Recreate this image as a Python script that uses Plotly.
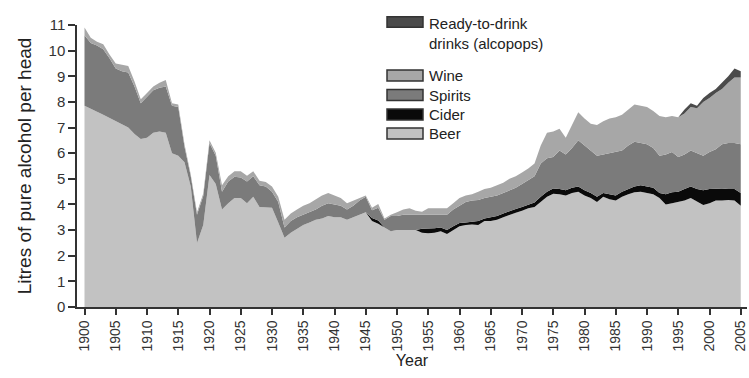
import plotly.graph_objects as go

years = list(range(1900, 2006))

beer = [7.85, 7.75, 7.62, 7.5, 7.38, 7.25, 7.12, 7.0, 6.75, 6.55,
        6.6, 6.8, 6.85, 6.8, 6.0, 5.9, 5.65, 4.7, 2.5, 3.2,
        5.15, 4.8, 3.8, 4.05, 4.25, 4.25, 4.05, 4.3, 3.9, 3.88,
        3.87, 3.3, 2.7, 2.9, 3.05, 3.2, 3.3, 3.4, 3.45, 3.55,
        3.5, 3.5, 3.4, 3.5, 3.6, 3.7, 3.35, 3.25, 3.1, 2.95,
        3.0, 3.0, 3.0, 3.0, 2.9, 2.88, 2.9, 2.95, 2.85, 3.0,
        3.15, 3.2, 3.22, 3.2, 3.35, 3.35, 3.4, 3.5, 3.6, 3.68,
        3.75, 3.85, 3.9, 4.1, 4.3, 4.42, 4.4, 4.35, 4.45, 4.5,
        4.35, 4.25, 4.1, 4.3, 4.2, 4.15, 4.3, 4.4, 4.48, 4.5,
        4.45, 4.4, 4.25, 4.0, 4.05, 4.1, 4.15, 4.25, 4.1, 3.98,
        4.05, 4.15, 4.15, 4.17, 4.15, 3.95]

cider = [0] * 46 + [0.12, 0.12, 0, 0, 0, 0, 0, 0, 0.15, 0.17,
        0.17, 0.15, 0.15, 0.15, 0.13, 0.1, 0.1, 0.15, 0.1, 0.15,
        0.15, 0.15, 0.15, 0.14, 0.15, 0.15, 0.18, 0.2, 0.2, 0.2,
        0.2, 0.2, 0.2, 0.2, 0.2, 0.2, 0.2, 0.15, 0.2, 0.2,
        0.2, 0.2, 0.22, 0.25, 0.25, 0.25, 0.2, 0.4, 0.43, 0.4,
        0.45, 0.45, 0.5, 0.57, 0.55, 0.47, 0.47, 0.43, 0.45, 0.5]

spirits = [2.75, 2.55, 2.58, 2.55, 2.32, 2.05, 2.08, 2.15, 1.85, 1.4,
           1.6, 1.65, 1.7, 1.8, 1.85, 1.9, 0.6, 0.4, 1.1, 1.13,
           1.25, 1.1, 0.7, 0.85, 0.83, 0.8, 0.85, 0.8, 0.85, 0.82,
           0.63, 0.8, 0.4, 0.45, 0.45, 0.4, 0.4, 0.4, 0.5, 0.5,
           0.5, 0.45, 0.4, 0.45, 0.55, 0.6, 0.3, 0.5, 0.3, 0.6,
           0.55, 0.6, 0.6, 0.6, 0.53, 0.55, 0.53, 0.5, 0.6, 0.65,
           0.67, 0.8, 0.83, 0.82, 0.8, 0.8, 0.8, 0.8, 0.8, 0.83,
           0.9, 0.95, 1.02, 1.3, 1.3, 1.23, 1.5, 1.4, 1.55, 1.8,
           1.75, 1.65, 1.6, 1.5, 1.6, 1.7, 1.6, 1.7, 1.75, 1.65,
           1.65, 1.55, 1.45, 1.55, 1.57, 1.35, 1.35, 1.4, 1.4, 1.35,
           1.45, 1.53, 1.73, 1.8, 1.8, 1.9]

wine = [0.3, 0.2, 0.15, 0.2, 0.15, 0.2, 0.25, 0.25, 0.2, 0.15,
        0.15, 0.15, 0.2, 0.25, 0.1, 0.1, 0.1, 0.07, 0.1, 0.1,
        0.1, 0.12, 0.25, 0.2, 0.22, 0.25, 0.22, 0.2, 0.17, 0.18,
        0.2, 0.2, 0.3, 0.3, 0.3, 0.35, 0.35, 0.4, 0.4, 0.4,
        0.35, 0.3, 0.25, 0.2, 0.1, 0.05, 0.1, 0.15, 0.05, 0.05,
        0.15, 0.2, 0.25, 0.15, 0.14, 0.25, 0.25, 0.25, 0.25, 0.25,
        0.3, 0.25, 0.25, 0.33, 0.35, 0.35, 0.4, 0.4, 0.45, 0.45,
        0.45, 0.45, 0.5, 0.7, 1.0, 1.0, 0.85, 0.65, 0.9, 1.1,
        1.05, 1.05, 1.2, 1.3, 1.35, 1.35, 1.4, 1.4, 1.45, 1.45,
        1.45, 1.45, 1.55, 1.45, 1.4, 1.55, 1.6, 1.7, 1.75, 2.1,
        2.1, 2.2, 2.15, 2.35, 2.55, 2.6]

rtd = [0] * 96 + [0.15, 0.15, 0.1, 0.15, 0.2, 0.15, 0.25, 0.25, 0.35, 0.25]

series_names = ["Beer", "Cider", "Spirits", "Wine", "Ready-to-drink<br>drinks (alcopops)"]
series_values = [beer, cider, spirits, wine, rtd]
series_colors = ["#c2c2c2", "#0a0a0a", "#7b7b7b", "#a7a7a7", "#4b4b4b"]

x_ticks = list(range(1900, 2006, 5))
y_ticks = list(range(0, 12))

FONT = "Liberation Sans Narrow, Arial Narrow, Liberation Sans, Arial, sans-serif"
AX = "#333333"

fig = go.Figure()
for name, vals, col in zip(series_names, series_values, series_colors):
    fig.add_trace(go.Scatter(
        x=years, y=vals, name=name, stackgroup="one", mode="lines",
        line=dict(width=0, color=col), fillcolor=col, showlegend=False,
    ))

# plot area in pixels
L, R, T, B = 77, 747, 25, 307
def px(xp):
    return (xp - L) / (R - L)
def py(yp):
    return (B - yp) / (B - T)

legend_rows = [("Ready-to-drink<br>drinks (alcopops)", 16.7, 27.3),
               ("Wine", 70.0, 81.0),
               ("Spirits", 89.5, 100.5),
               ("Cider", 109.0, 120.0),
               ("Beer", 128.0, 139.0)]
shapes = []
annotations = []
for name, y0, y1 in legend_rows:
    col = series_colors[series_names.index(name)]
    shapes.append(dict(type="rect", xref="paper", yref="paper",
                       x0=px(387), x1=px(423), y0=py(y1), y1=py(y0),
                       fillcolor=col, line=dict(color="#333333", width=1.5)))
    if "<br>" in name:
        annotations.append(dict(xref="paper", yref="paper", x=px(427), y=py(y0 - 4),
                                xanchor="left", yanchor="top", text=name, showarrow=False,
                                align="left", font=dict(family=FONT, size=15, color="#222")))
    else:
        annotations.append(dict(xref="paper", yref="paper", x=px(427), y=py((y0 + y1) / 2),
                                xanchor="left", yanchor="middle", text=name, showarrow=False,
                                align="left", font=dict(family=FONT, size=15, color="#222")))

fig.update_layout(
    width=749, height=378,
    margin=dict(l=L, r=749 - R, t=T, b=378 - B),
    paper_bgcolor="white", plot_bgcolor="white",
    font=dict(family=FONT, color=AX),
    shapes=shapes, annotations=annotations,
    xaxis=dict(range=[1898.8, 2006], tickvals=x_ticks, ticktext=[str(v) for v in x_ticks],
               tickangle=-90, ticks="outside", ticklen=6, tickwidth=1.5, tickcolor=AX,
               showline=True, linecolor=AX, linewidth=1.5, showgrid=False, zeroline=False,
               tickfont=dict(size=14, color=AX),
               title=dict(text="Year", font=dict(size=16, color="#222"), standoff=2)),
    yaxis=dict(range=[0, 11], tickvals=y_ticks, ticks="outside", ticklen=7, tickwidth=1.5,
               tickcolor=AX, showline=True, linecolor=AX, linewidth=1.5, showgrid=False,
               zeroline=False, tickfont=dict(size=15, color=AX),
               title=dict(text="Litres of pure alcohol per head", font=dict(size=19, color="#222"),
                          standoff=12)),
)

fig.write_html("out.html", config={"displayModeBar": False},
               post_script="document.body.style.margin='0px';")
